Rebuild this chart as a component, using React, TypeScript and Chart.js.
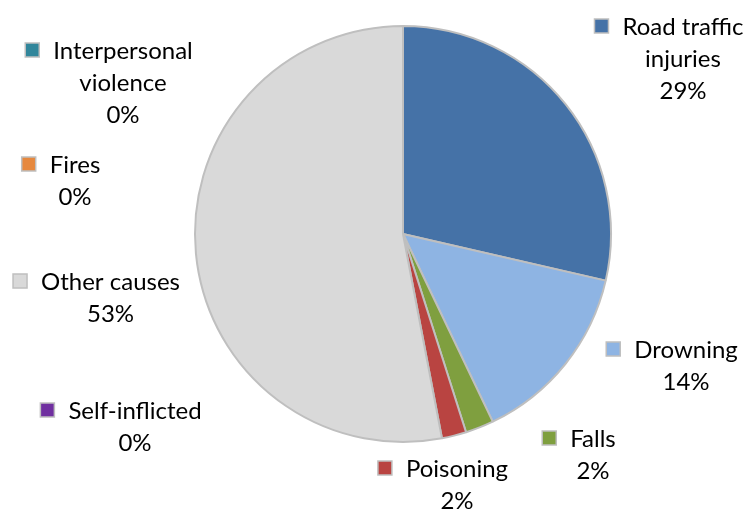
import React, { useEffect, useRef } from "react";
import { Chart, registerables } from "chart.js";

Chart.register(...registerables);

const categories: string[][] = [
  ["Road traffic", "injuries"],
  ["Drowning"],
  ["Falls"],
  ["Poisoning"],
  ["Self-inflicted"],
  ["Other causes"],
  ["Fires"],
  ["Interpersonal", "violence"],
];
const values: number[] = [28.6, 14.3, 2.2, 1.9, 0, 53.0, 0, 0];
const colors: string[] = [
  "#4572A7",
  "#8EB4E3",
  "#7F9F3F",
  "#B94441",
  "#7030A0",
  "#D9D9D9",
  "#E6883E",
  "#31869B",
];

// label layout (text centre x, first line centre y)
const labelPos: [number, number][] = [
  [683, 26],
  [686, 349],
  [593, 438],
  [457, 468],
  [135, 410],
  [110.5, 281],
  [75, 164],
  [123, 50],
];

const FONT = "24px Lato";
const LINE_H = 32;

const labelPlugin = {
  id: "outLabels",
  afterDraw(chart: any) {
    const ctx = chart.ctx;
    const data = chart.data.datasets[0].data as number[];
    const total = data.reduce((a: number, b: number) => a + b, 0);
    ctx.save();
    ctx.font = FONT;
    ctx.fillStyle = "#000";
    ctx.textAlign = "center";
    ctx.textBaseline = "middle";
    categories.forEach((lines, i) => {
      const [cx, cy] = labelPos[i];
      const pct = Math.round((data[i] / total) * 100) + "%";
      const all = [...lines, pct];
      all.forEach((t, k) => {
        ctx.fillText(t, cx, cy + k * LINE_H + 1);
      });
      const w = ctx.measureText(lines[0]).width;
      const s = 14;
      const mx = cx - w / 2 - 14 - s;
      const my = cy - s / 2;
      ctx.fillStyle = colors[i];
      ctx.fillRect(mx, my, s, s);
      ctx.strokeStyle = "#BFBFBF";
      ctx.lineWidth = 1.5;
      ctx.strokeRect(mx, my, s, s);
      ctx.fillStyle = "#000";
    });
    ctx.restore();
  },
};

export default function App() {
  const ref = useRef<HTMLCanvasElement>(null);
  useEffect(() => {
    document.body.style.margin = "0";
    const chart = new Chart(ref.current!, {
      type: "pie",
      data: {
        labels: categories.map((c) => c.join(" ")),
        datasets: [
          {
            data: values,
            backgroundColor: colors,
            borderColor: "#BFBFBF",
            borderWidth: 2,
          },
        ],
      },
      options: {
        responsive: false,
        animation: false,
        layout: { padding: { left: 194, right: 135, top: 25, bottom: 68 } },
        plugins: {
          legend: { display: false },
          tooltip: { enabled: false },
        },
      },
      plugins: [labelPlugin],
    });
    return () => chart.destroy();
  }, []);
  return (
    <div style={{ width: 747, height: 511, background: "#fff" }}>
      <canvas ref={ref} width={747} height={511} />
    </div>
  );
}
